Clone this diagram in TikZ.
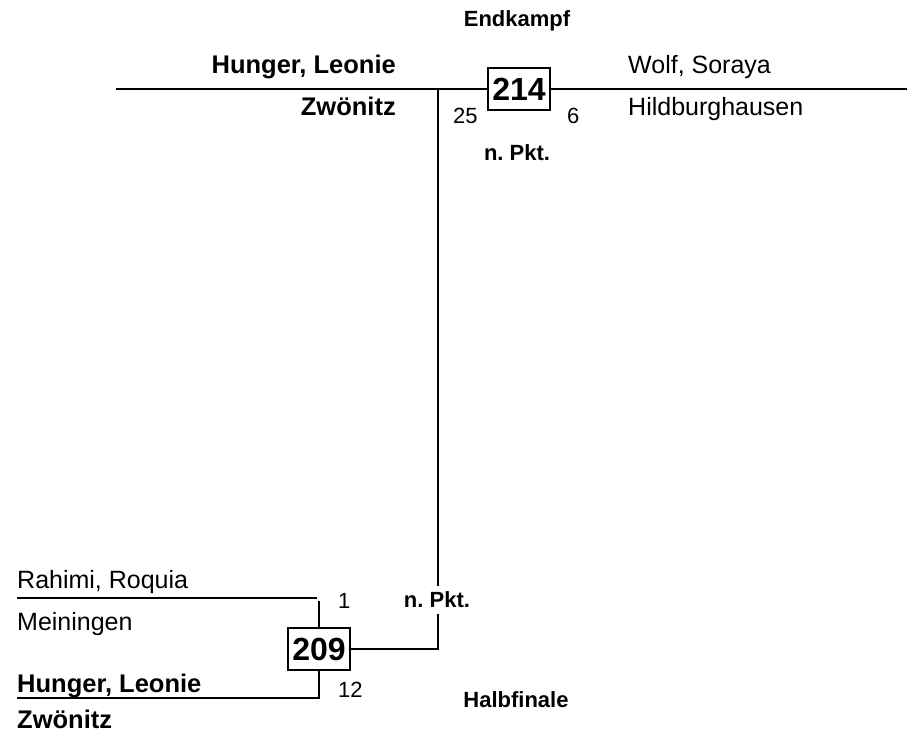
\documentclass[tikz,border=0pt]{standalone}
\usepackage{fontspec}
\setmainfont{Liberation Sans}
\usetikzlibrary{positioning,calc}
\frenchspacing

\begin{document}
\begin{tikzpicture}[
    x=1pt,y=-1pt,
    inner sep=0pt, %text sits right on its anchor
    nm/.style={font=\fontsize{25}{30}\selectfont},
    nmbf/.style={font=\bfseries\fontsize{25.5}{30}\selectfont},
    hd/.style={font=\bfseries\fontsize{22}{26}\selectfont},
    sc/.style={font=\fontsize{22}{26}\selectfont},
    matchbox/.style={draw,line width=1.5pt,minimum width=62pt,minimum height=42pt,
        font=\bfseries\fontsize{32}{38}\selectfont},
    wline/.style={line width=2.4pt},
    lline/.style={line width=1.4pt},
    ]
    \useasboundingbox (0,0) rectangle (908,736);

    %Endkampf
    \node[hd,anchor=base] (endk) at (517,27) {Endkampf};
    \node[nmbf,anchor=base east] (p1name) at (396,73) {Hunger, Leonie};
    \node[nmbf,anchor=base east] (p1club) at (396,115) {Zwönitz};
    \node[nm,anchor=base west] (p2name) at (628,73) {Wolf, Soraya};
    \node[nm,anchor=base west] (p2club) at (628,115) {Hildburghausen};
    \node[matchbox] (m214) at (519,89) {214};
    \node[sc,anchor=base west] (s214a) at (453,123) {25};
    \node[sc,anchor=base west] (s214b) at (567,123) {6};
    \node[hd,anchor=base] (np214) at (517,160) {n. Pkt.};

    \coordinate (tl) at (116,89);
    \coordinate (tr) at (907,89);
    \coordinate (tv) at (438,89);
    \draw[wline] (tl) -- (m214.west);
    \draw[wline] (m214.east) -- (tr);

    %Halbfinale
    \node[nm,anchor=base west] (q1name) at (17,588) {Rahimi, Roquia};
    \node[nm,anchor=base west] (q1club) at (17,630) {Meiningen};
    \node[nmbf,anchor=base west] (q2name) at (17,692) {Hunger, Leonie};
    \node[nmbf,anchor=base west] (q2club) at (17,728) {Zwönitz};
    \node[matchbox] (m209) at (319,649) {209};
    \node[sc,anchor=base west] (s209a) at (338,608) {1};
    \node[sc,anchor=base west] (s209b) at (338,697) {12};
    \node[hd,inner sep=6pt] (np209) at (437,600) {n. Pkt.};
    \node[hd,anchor=base] (halb) at (516,707) {Halbfinale};

    \coordinate (ra) at (17,598);
    \coordinate (rb) at (317,598);
    \coordinate (rc) at (319,601);
    \coordinate (hb) at (17,698);
    \draw[lline] (ra) -- (rb);
    \draw[line width=2pt] (rc) -- (m209.north);
    \draw[wline] (m209.south) |- (hb);

    %winner line up to the final
    \draw[line width=2pt] (tv) -- (tv |- np209.north);
    \draw[line width=2pt] (tv |- np209.south) |- (m209.east);

\end{tikzpicture}
\end{document}
